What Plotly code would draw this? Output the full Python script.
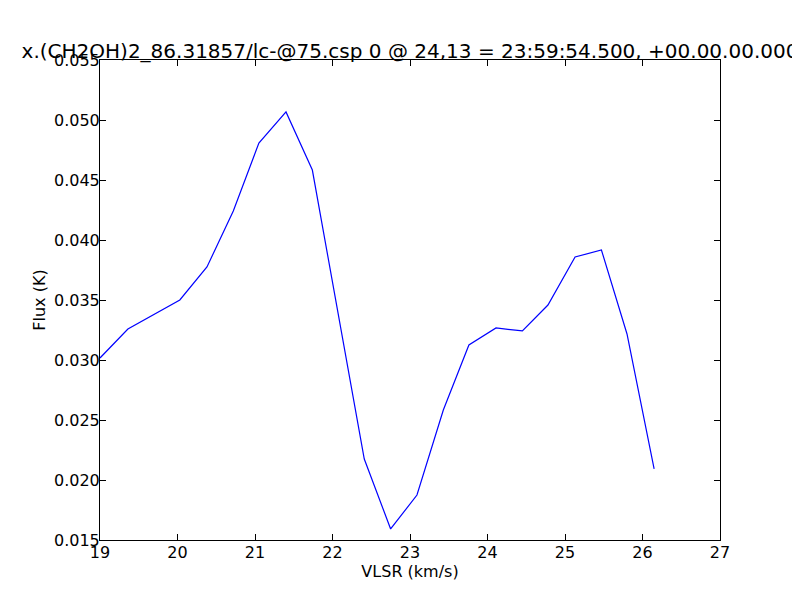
import plotly.graph_objects as go

vlsr = [19.00, 19.36, 20.03, 20.38, 20.72, 21.05, 21.40, 21.74, 22.41, 22.75,
        23.09, 23.43, 23.76, 24.11, 24.45, 24.78, 25.13, 25.47, 25.80, 26.15]
flux = [0.03017, 0.03258, 0.03500, 0.03775, 0.04242, 0.04808, 0.05067, 0.04583,
        0.02175, 0.01592, 0.01875, 0.02583, 0.03125, 0.03267, 0.03242, 0.03458,
        0.03858, 0.03917, 0.03217, 0.02092]

x_ticks = [19, 20, 21, 22, 23, 24, 25, 26, 27]
y_ticks = [0.015, 0.020, 0.025, 0.030, 0.035, 0.040, 0.045, 0.050, 0.055]
y_tick_labels = ["%.3f" % v for v in y_ticks]

title = "x.(CH2OH)2_86.31857/lc-@75.csp 0 @ 24,13 = 23:59:54.500, +00.00.00.000"

fig = go.Figure()
fig.add_trace(go.Scatter(x=vlsr, y=flux, mode="lines",
                         line=dict(color="#0000ff", width=1.2), showlegend=False))

axis_common = dict(showline=True, linecolor="black", linewidth=1, mirror="ticks",
                   ticks="inside", ticklen=6, tickcolor="black", tickwidth=1,
                   showgrid=False, zeroline=False,
                   tickfont=dict(family="DejaVu Sans", size=16, color="black"))

fig.update_layout(
    width=792, height=592,
    paper_bgcolor="white", plot_bgcolor="white",
    margin=dict(l=92, r=80, t=52, b=60, autoexpand=False),
    font=dict(family="DejaVu Sans", color="black"),
    title=dict(text=title, x=0.5, xref="paper", xanchor="center",
               y=1, yref="paper", yanchor="bottom", pad=dict(b=2),
               font=dict(family="DejaVu Sans", size=20, color="black")),
    xaxis=dict(range=[19, 27], tickvals=x_ticks, ticktext=[str(v) for v in x_ticks],
               title=dict(text="VLSR (km/s)", font=dict(size=16), standoff=0),
               ticklabelstandoff=-2, **axis_common),
    yaxis=dict(range=[0.015, 0.055], tickvals=y_ticks, ticktext=y_tick_labels,
               title=dict(text="Flux (K)", font=dict(size=16), standoff=4),
               ticklabelstandoff=-4, **axis_common),
)

fig.write_html("out.html")
